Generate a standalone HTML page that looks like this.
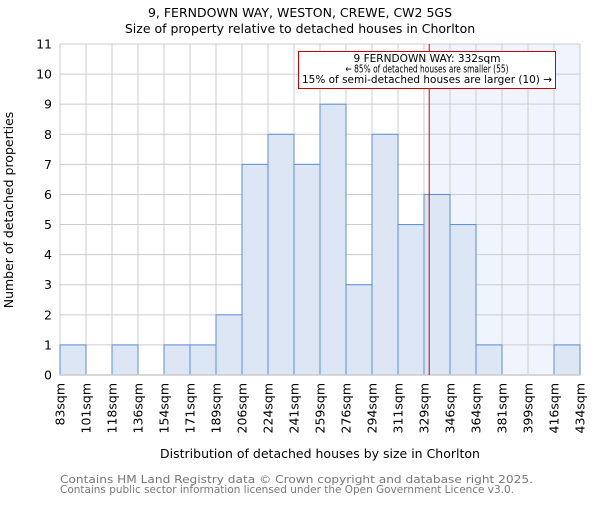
<!DOCTYPE html>
<html><head><meta charset="utf-8"><style>
body{margin:0;background:#fff;}
svg text{font-family:"DejaVu Sans","Liberation Sans",sans-serif;}
</style></head><body>
<svg id="chart" width="600" height="500" xmlns="http://www.w3.org/2000/svg">
<text x="300" y="17" text-anchor="middle" font-size="12.5">9, FERNDOWN WAY, WESTON, CREWE, CW2 5GS</text>
<text x="300" y="33" text-anchor="middle" font-size="12.5">Size of property relative to detached houses in Chorlton</text>
<g id="plot"></g>
<text x="320" y="458" text-anchor="middle" font-size="12.5">Distribution of detached houses by size in Chorlton</text>
<text transform="translate(13,210) rotate(-90)" text-anchor="middle" font-size="12.5">Number of detached properties</text>
<text x="60" y="483" font-size="10.5" fill="#777" textLength="473" lengthAdjust="spacingAndGlyphs">Contains HM Land Registry data © Crown copyright and database right 2025.</text>
<text x="60" y="493" font-size="10.5" fill="#777" textLength="454" lengthAdjust="spacingAndGlyphs">Contains public sector information licensed under the Open Government Licence v3.0.</text>
</svg>
<script>
const binLabels=["83sqm","101sqm","118sqm","136sqm","154sqm","171sqm","189sqm","206sqm","224sqm","241sqm","259sqm","276sqm","294sqm","311sqm","329sqm","346sqm","364sqm","381sqm","399sqm","416sqm","434sqm"];
const counts=[1,0,1,0,1,1,2,7,8,7,9,3,8,5,6,5,1,0,0,1];
const yTicks=[0,1,2,3,4,5,6,7,8,9,10,11];
const propertyBinPos=[14.2];
const L=60,R=580,T=44,B=375,yMax=11;
const NS="http://www.w3.org/2000/svg";
const g=document.getElementById('plot');
const xs=i=>L+(R-L)*i/counts.length;
const ys=v=>B-(B-T)*v/yMax;
function mk(t,a){const e=document.createElementNS(NS,t);for(const k in a)e.setAttribute(k,a[k]);g.appendChild(e);return e;}
const px=xs(propertyBinPos[0]);
let e=mk('rect',{x:px,y:T,width:R-px,height:B-T,fill:'#f0f4fc'});


yTicks.forEach(v=>{let l=mk('line',{x1:L,x2:R,y1:ys(v),y2:ys(v),stroke:'#ccc','stroke-width':1});


let t=mk('text',{x:L-8,y:ys(v)+4.5,'text-anchor':'end','font-size':12.5});t.textContent=v;

});
binLabels.forEach((s,i)=>{let l=mk('line',{x1:xs(i),x2:xs(i),y1:T,y2:B,stroke:'#ccc','stroke-width':1});


let t=mk('text',{transform:`translate(${xs(i)+4.5},${B+8}) rotate(-90)`,'text-anchor':'end','font-size':12.5});t.textContent=s;

});
counts.forEach((v,i)=>{if(!v)return;let r=mk('rect',{x:xs(i),y:ys(v),width:xs(i+1)-xs(i),height:B-ys(v),fill:'#dce6f4',stroke:'#5a8fd6','stroke-width':1});

});
let bl=mk('line',{x1:L,x2:R,y1:B,y2:B,stroke:'#ccc','stroke-width':1.5});


let pl=mk('line',{x1:px,x2:px,y1:T,y2:B,stroke:'#c00','stroke-width':1});


let box=mk('rect',{x:298.5,y:51.5,width:257,height:37,fill:'#fff',stroke:'#c00','stroke-width':1});


const annLens=[147,163,250];
["9 FERNDOWN WAY: 332sqm","← 85% of detached houses are smaller (55)","15% of semi-detached houses are larger (10) →"].forEach((s,i)=>{
let t=mk('text',{x:427,y:62+i*10.5,'text-anchor':'middle','font-size':10.5,textLength:annLens[i],lengthAdjust:'spacingAndGlyphs'});t.textContent=s;

});
</script>
</body></html>
